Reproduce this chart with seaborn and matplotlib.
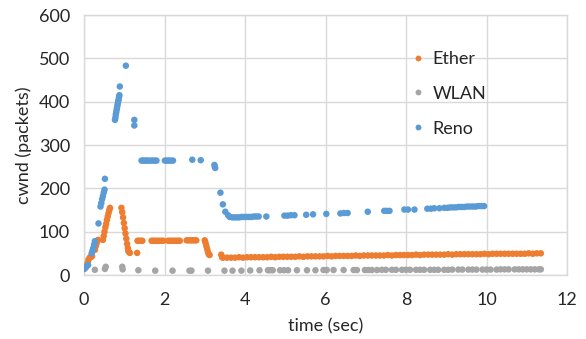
import matplotlib
matplotlib.use("Agg")
import matplotlib.pyplot as plt
import seaborn as sns
import pandas as pd

# --- congestion window traces (time in seconds, cwnd in packets) ---
ether_t = [0.00, 0.03, 0.06, 0.09, 0.11, 0.14, 0.17, 0.20, 0.27, 0.29, 0.31, 0.33, 0.35,
           0.47, 0.49, 0.51, 0.53, 0.55, 0.57, 0.59, 0.61, 0.63, 0.645,
           0.93, 0.95, 0.97, 0.99, 1.01, 1.03, 1.05, 1.07, 1.09, 1.10, 1.12, 1.14,
           1.32, 1.33, 1.37, 1.41, 1.45, 1.68, 1.72, 1.77, 1.82, 1.87, 1.92, 1.97,
           2.09, 2.14, 2.19, 2.24, 2.29, 2.34, 2.38, 2.55, 2.60, 2.65, 2.70, 2.75, 2.79,
           3.00, 3.02, 3.04, 3.06, 3.08, 3.10, 3.12, 3.41, 3.43,
           3.45, 3.55, 3.65, 3.75, 3.85, 3.95, 4.05, 4.15, 4.25, 4.35,
           4.45, 4.55, 4.65, 4.75, 4.85, 4.95, 5.05, 5.15, 5.25, 5.35,
           5.45, 5.55, 5.65, 5.75, 5.85, 5.95, 6.05, 6.15, 6.25, 6.35,
           6.45, 6.55, 6.65, 6.75, 6.85, 6.95, 7.05, 7.15, 7.25, 7.35,
           7.45, 7.55, 7.65, 7.75, 7.85, 7.95, 8.05, 8.15, 8.25, 8.35,
           8.45, 8.55, 8.65, 8.75, 8.85, 8.95, 9.05, 9.15, 9.25, 9.35,
           9.45, 9.55, 9.65, 9.75, 9.85, 9.95, 10.05, 10.15, 10.25, 10.35,
           10.45, 10.55, 10.65, 10.75, 10.85, 10.95, 11.05, 11.15, 11.25, 11.35]
ether_cwnd = [14, 16, 20, 28, 35, 40, 42, 43, 58, 66, 72, 78, 81,
              81, 90, 100, 110, 118, 127, 135, 143, 150, 155,
              155, 145, 133, 120, 108, 96, 84, 72, 62, 55, 53, 51,
              51, 79, 79, 79, 79, 79, 79, 79, 79, 79, 79, 79,
              79, 79, 79, 79, 79, 79, 79, 80, 80, 80, 80, 80, 80,
              80, 74, 67, 60, 53, 48, 46, 47, 41,
              40, 40, 40, 40, 41, 40, 41, 41, 41, 41,
              41, 41, 42, 41, 42, 42, 42, 42, 42, 43,
              42, 43, 43, 43, 43, 43, 44, 43, 44, 44,
              44, 44, 44, 45, 44, 45, 45, 45, 45, 45,
              45, 46, 45, 46, 46, 46, 46, 46, 47, 46,
              47, 47, 47, 47, 47, 47, 48, 47, 48, 48,
              48, 48, 48, 48, 48, 49, 48, 49, 49, 49,
              49, 49, 49, 49, 49, 49, 50, 49, 50, 50]

wlan_t = [0.00, 0.27, 0.52, 0.54, 0.95, 0.96, 1.35, 1.77, 2.20, 2.62, 2.67, 3.08, 3.49,
          3.69, 3.91, 4.13, 4.36, 4.57, 4.63, 4.69, 4.87, 4.97, 5.07, 5.29, 5.54, 5.75,
          5.95, 6.03, 6.20, 6.45, 6.70, 6.78, 6.98, 7.06, 7.15, 7.28,
          7.40, 7.50, 7.65, 7.75, 7.90, 8.00, 8.10, 8.25, 8.35, 8.45, 8.60, 8.70, 8.80,
          8.95, 9.05, 9.15, 9.30, 9.40, 9.55, 9.65, 9.75, 9.90, 10.00, 10.10, 10.25,
          10.35, 10.45, 10.55, 10.70, 10.80, 10.90, 11.00, 11.10, 11.20, 11.30, 11.35]
wlan_cwnd = [14, 12, 14, 19, 19, 13, 11, 10, 10, 10, 10, 10, 10,
             10, 10, 10.5, 11, 11, 11, 11, 11, 11, 11, 11, 11, 11,
             11.5, 11.5, 11.5, 11.5, 11.5, 11.5, 11.5, 11.5, 11.5, 11.5,
             12, 12, 12, 12, 12, 12, 12, 12, 12, 12, 12, 12, 12,
             12, 12, 12.5, 12.5, 12.5, 12.5, 12.5, 12.5, 12.5, 12.5, 12.5, 12.5,
             13, 13, 13, 13, 13, 13, 13, 13, 13, 13, 13]

reno_t = [0.00, 0.05, 0.10, 0.19, 0.21, 0.23, 0.25, 0.27, 0.36, 0.41, 0.43, 0.45, 0.47,
          0.49, 0.51, 0.52,
          0.77, 0.78, 0.79, 0.80, 0.81, 0.82, 0.83, 0.84, 0.85, 0.86, 0.87, 0.88, 0.89,
          1.04, 1.25, 1.25,
          1.43, 1.47, 1.52, 1.56, 1.60, 1.66, 1.71, 1.76, 1.80, 2.01, 2.06, 2.11, 2.16, 2.21,
          2.69, 2.90, 3.24, 3.25, 3.26,
          3.39, 3.45, 3.51, 3.58, 3.62, 3.68, 3.74, 3.80, 3.86, 3.92, 3.98, 4.04, 4.10,
          4.16, 4.22, 4.28, 4.34, 4.53,
          4.98, 5.06, 5.14, 5.23, 5.52, 5.69, 6.02, 6.37, 6.46, 6.55, 7.05, 7.46, 7.52, 7.59,
          7.96, 8.05, 8.21, 8.53, 8.62, 8.70, 8.83,
          8.95, 9.03, 9.10, 9.17, 9.24, 9.31, 9.38, 9.45, 9.52, 9.59, 9.66, 9.73, 9.80, 9.87, 9.94]
reno_cwnd = [14, 18, 23, 50, 56, 62, 70, 78, 119, 158, 166, 175, 182,
             190, 197, 222,
             358, 363, 370, 375, 381, 386, 391, 396, 401, 405, 411, 415, 435,
             483, 358, 345,
             264, 264, 264, 264, 264, 264, 264, 264, 264, 264, 264, 264, 264, 264,
             266, 265, 254, 250, 247,
             190, 163, 146, 138, 134, 133, 133, 133, 133, 134, 134, 134, 134,
             134, 135, 135, 135, 135,
             137, 137, 138, 138, 139, 140, 141, 142, 143, 143, 146, 148, 148, 148,
             151, 151, 151, 153, 153, 154, 154,
             155, 155, 156, 156, 156, 157, 157, 157, 158, 158, 158, 158, 159, 159, 159]

series_names = ["Ether", "WLAN", "Reno"]
colors = {"Ether": "#ED7D31", "WLAN": "#A5A5A5", "Reno": "#5B9BD5"}

df = pd.concat([
    pd.DataFrame({"time": ether_t, "cwnd": ether_cwnd, "series": "Ether"}),
    pd.DataFrame({"time": wlan_t, "cwnd": wlan_cwnd, "series": "WLAN"}),
    pd.DataFrame({"time": reno_t, "cwnd": reno_cwnd, "series": "Reno"}),
], ignore_index=True)

sns.set_theme(style="white")
plt.rcParams["font.family"] = ["Lato", "DejaVu Sans"]

FS = 13
TXT = "#262626"

fig = plt.figure(figsize=(5.86, 3.39), dpi=100)
ax = fig.add_axes([84 / 586, 1 - 275 / 339, 483 / 586, 260 / 339])

sns.scatterplot(data=df, x="time", y="cwnd", hue="series", hue_order=series_names,
                palette=colors, s=22, linewidth=0, ax=ax, legend=True, zorder=3)

ax.set_xlim(0, 12)
ax.set_ylim(0, 600)
ax.set_xticks(range(0, 13, 2))
ax.set_yticks(range(0, 601, 100))
ax.grid(True, color="#D9D9D9", linewidth=1)
ax.set_axisbelow(True)
for side in ["left", "right", "top", "bottom"]:
    ax.spines[side].set_color("#D9D9D9")
    ax.spines[side].set_linewidth(1)
ax.tick_params(axis="both", length=0, labelsize=FS, colors=TXT)
ax.tick_params(axis="y", pad=10)
ax.tick_params(axis="x", pad=12)

ax.set_xlabel("time (sec)", fontsize=FS, color=TXT, labelpad=8)
ax.set_ylabel("cwnd (packets)", fontsize=FS, color=TXT, labelpad=5)

leg = ax.legend(loc="upper left", bbox_to_anchor=(0.655, 0.89), frameon=False,
                fontsize=FS, labelspacing=1.05, handletextpad=0.2,
                handlelength=1.2, borderaxespad=0, title=None, markerscale=0.9)
for txt in leg.get_texts():
    txt.set_color(TXT)

fig.savefig("out.png", dpi=100)
